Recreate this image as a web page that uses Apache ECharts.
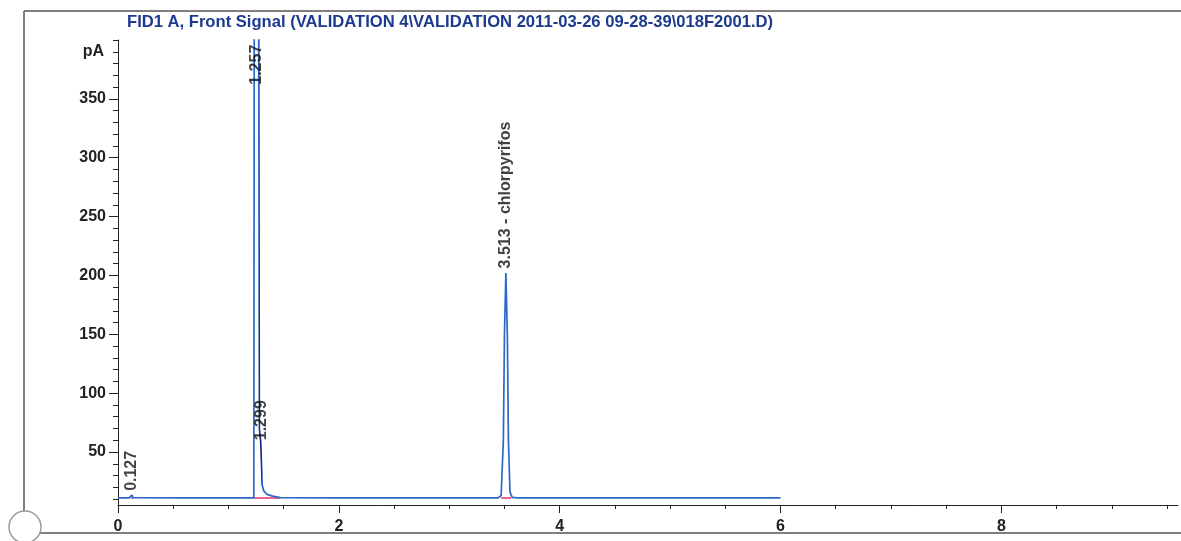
<!DOCTYPE html>
<html>
<head>
<meta charset="utf-8">
<script src="https://cdn.jsdelivr.net/npm/echarts@6/dist/echarts.min.js"></script>
<style>
html,body{margin:0;padding:0;background:#fff;}
#chart{width:1181px;height:541px;}
</style>
</head>
<body>
<div id="chart"></div>
<script>
// ---- data ----
const titleText = 'FID1 A, Front Signal (VALIDATION 4\\VALIDATION 2011-03-26 09-28-39\\018F2001.D)';
const yUnit = 'pA';
// retention time (min) of signal samples
const signalTime = [0, 0.10, 0.118, 0.127, 0.136, 0.15, 0.6, 1.0, 1.230, 1.234, 1.255, 1.274, 1.280, 1.292, 1.300, 1.306, 1.32, 1.35, 1.40, 1.47, 2.0, 3.0, 3.44, 3.47, 3.49, 3.50, 3.513, 3.526, 3.536, 3.55, 3.57, 3.62, 4.5, 5.5, 6.0];
// signal (pA)
const signalValue = [11, 11, 11.2, 13.5, 11.2, 11, 11, 11, 11, 420, 3000, 420, 70, 59, 40, 22, 17, 14, 12.5, 11.3, 11, 11, 11, 13, 60, 150, 202, 150, 60, 16, 11.5, 11, 11, 11, 11];
// integration baselines (pink)
const baseTime = [0.115, 0.14, null, 1.232, 1.47, null, 3.47, 3.56];
const baseValue = [11, 11, null, 11, 11, null, 11, 11];
// peak annotations
const peakTimes = [0.127, 1.257, 1.299, 3.513];
const peakLabelBase = [17, 362, 60, 206];
const peakNames = ['0.127', '1.257', '1.299', '3.513 - chlorpyrifos'];
// axis ticks
const xMajor = [0, 2, 4, 6, 8];
const xMinor = [0.5, 1, 1.5, 2.5, 3, 3.5, 4.5, 5, 5.5, 6.5, 7, 7.5, 8.5, 9, 9.5];
const yMajor = [50, 100, 150, 200, 250, 300, 350];
const yMinor = [10, 20, 30, 40, 60, 70, 80, 90, 110, 120, 130, 140, 160, 170, 180, 190, 210, 220, 230, 240, 260, 270, 280, 290, 310, 320, 330, 340, 360, 370, 380, 390, 400];

const signalData = signalTime.map((t, i) => [t, signalValue[i]]);
const baseData = baseTime.map((t, i) => t === null ? [null, null] : [t, baseValue[i]]);
const labelData = peakTimes.map((t, i) => ({ value: [t, peakLabelBase[i]], name: peakNames[i] }));

const FONT = '"Liberation Sans", Arial, sans-serif';
const chart = echarts.init(document.getElementById('chart'), null, { renderer: 'canvas' });
const axisCommon = { min: 0, max: 9.6, type: 'value' };
chart.setOption({
  backgroundColor: '#ffffff',
  animation: false,
  title: {
    text: titleText, left: 122, top: 9,
    textStyle: { fontFamily: FONT, fontSize: 16.6, fontWeight: 'bold', color: '#1c3a8e' }
  },
  grid: { left: 118, right: 3, top: 40, bottom: 36, containLabel: false },
  visualMap: {
    show: false, type: 'piecewise', dimension: 0, seriesIndex: 1,
    pieces: [
      { lt: 1.279, color: '#2a68c4' },
      { gte: 1.279, lte: 1.303, color: '#1a2a86' },
      { gt: 1.303, color: '#2a68c4' }
    ]
  },
  xAxis: [
    Object.assign({}, axisCommon, {
      axisLine: { show: true, lineStyle: { color: '#222', width: 1 } },
      axisTick: { show: true, length: 8, customValues: xMajor, lineStyle: { color: '#222' } },
      axisLabel: { show: true, customValues: xMajor, margin: 14, fontFamily: FONT, fontSize: 16, fontWeight: 'bold', color: '#222' },
      splitLine: { show: false }
    }),
    Object.assign({}, axisCommon, {
      position: 'bottom',
      axisLine: { show: false },
      axisTick: { show: true, length: 4, customValues: xMinor, lineStyle: { color: '#222' } },
      axisLabel: { show: false },
      splitLine: { show: false }
    })
  ],
  yAxis: [
    {
      type: 'value', min: 5, max: 400,
      name: yUnit, nameLocation: 'end', nameGap: -20,
      nameTextStyle: { fontFamily: FONT, fontSize: 16, fontWeight: 'bold', color: '#222', align: 'right', padding: [0, 14, 0, 0] },
      axisLine: { show: true, lineStyle: { color: '#222', width: 1 } },
      axisTick: { show: true, length: 9, customValues: yMajor, lineStyle: { color: '#222' } },
      axisLabel: { show: true, customValues: yMajor, margin: 12, fontFamily: FONT, fontSize: 16, fontWeight: 'bold', color: '#222' },
      splitLine: { show: false }
    },
    {
      type: 'value', min: 5, max: 400, position: 'left',
      axisLine: { show: false },
      axisTick: { show: true, length: 5, customValues: yMinor, lineStyle: { color: '#222' } },
      axisLabel: { show: false },
      splitLine: { show: false }
    }
  ],
  graphic: [
    { type: 'line', shape: { x1: 24, y1: 11, x2: 1181, y2: 11 }, style: { stroke: '#555', lineWidth: 1.5 }, z: 10 },
    { type: 'line', shape: { x1: 24, y1: 11, x2: 24, y2: 512 }, style: { stroke: '#555', lineWidth: 1.5 }, z: 10 },
    { type: 'line', shape: { x1: 38, y1: 533, x2: 1181, y2: 533 }, style: { stroke: '#555', lineWidth: 1.5 }, z: 10 },
    { type: 'circle', shape: { cx: 25, cy: 527, r: 16 }, style: { fill: '#fff', stroke: '#999', lineWidth: 1.5 }, z: 11 }
  ],
  series: [
    {
      type: 'line', name: 'baseline', data: baseData, connectNulls: false,
      showSymbol: false, symbol: 'none', lineStyle: { color: '#e8306e', width: 1.5 }, z: 2
    },
    {
      type: 'line', name: 'signal', data: signalData,
      showSymbol: false, symbol: 'none', clip: true,
      lineStyle: { width: 1.7 }, z: 3
    },
    {
      type: 'scatter', name: 'peaks', data: labelData, symbolSize: 0,
      label: {
        show: true, position: 'inside', rotate: 90, align: 'left', verticalAlign: 'middle',
        formatter: p => p.name, fontFamily: FONT, fontSize: 16, fontWeight: 'bold', color: '#111'
      },
      z: 5
    }
  ]
});
</script>
</body>
</html>
